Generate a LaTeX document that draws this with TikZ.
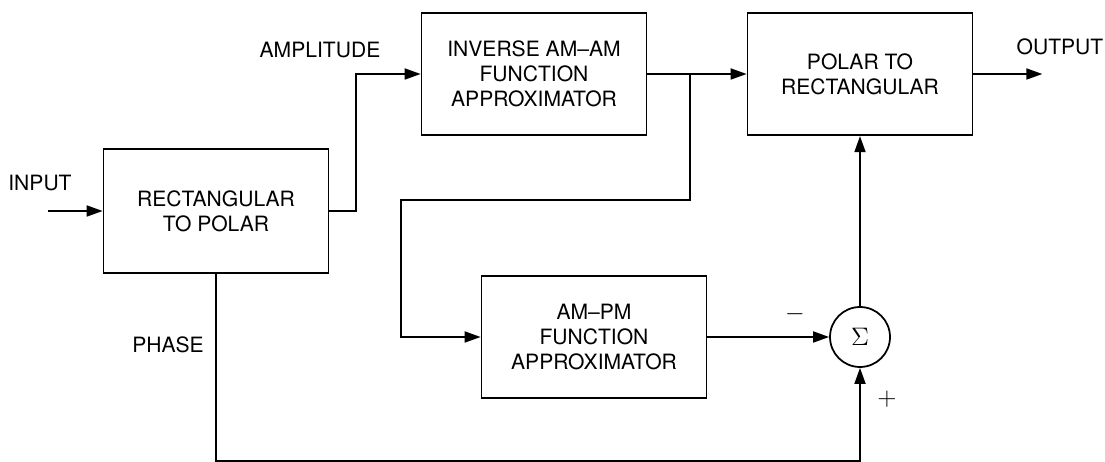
\documentclass[tikz,border=0pt]{standalone}
\usepackage{fontspec}
\setmainfont{TeX Gyre Heros}
\usepackage{tikz}
\usetikzlibrary{arrows.meta, positioning, calc}

\begin{document}
\begin{tikzpicture}[
    x=0.02cm, y=-0.02cm,
    % Styles
    block/.style={draw, rectangle, align=center, minimum width=4.5cm,
                  minimum height=2.45cm, font=\fontsize{12}{14.4}\selectfont, line width=1pt},
    sumnode/.style={draw, circle, minimum size=1.2cm, inner sep=0pt, line width=1pt, font=\Large},
    arrow/.style={-{Triangle[length=0.32cm, width=0.22cm]}, line width=1pt},
    lbl/.style={font=\fontsize{12}{14.4}\selectfont, inner sep=1pt}
  ]
    \useasboundingbox (0,0) rectangle (1105,462);

    % === Blocks ===
    \node[block, minimum height=2.48cm] (r2p) at (216,211) {RECTANGULAR\\TO POLAR};
    \node[block] (inv) at (534,74) {INVERSE AM--AM\\FUNCTION\\APPROXIMATOR};
    \node[block] (p2r) at (860,74) {POLAR TO\\RECTANGULAR};
    \node[block] (ampm) at (594,337) {AM--PM\\FUNCTION\\APPROXIMATOR};
    \node[sumnode] (sum) at (860,337) {$\Sigma$};

    % === Free ends ===
    \coordinate (in) at (48,211);
    \coordinate (split) at (690,74);

    % === Labels ===
    \node[lbl] (inputlbl) at (40,183) {INPUT};
    \node[lbl] (amplbl) at (320,50) {AMPLITUDE};
    \node[lbl] (phaselbl) at (168,345) {PHASE};
    \node[lbl] (outlbl) at (1060,47) {OUTPUT};
    \node[lbl, font=\Large] (minuslbl) at (795,314) {$-$};
    \node[lbl, font=\Large] (pluslbl) at (887,399) {$+$};

    % === Connectors ===
    \draw[arrow] (in) -- (r2p.west);
    \draw[arrow] (r2p.east) -- ++(27,0) |- (inv.west);
    \draw[arrow] (inv.east) -- (p2r.west);
    \draw[arrow] (split) -- ++(0,126) -- ++(-289,0) |- (ampm.west);
    \draw[arrow] (ampm.east) -- (sum.west);
    \draw[arrow] (r2p.south) -- ++(0,187) -| (sum.south);
    \draw[arrow] (sum.north) -- (p2r.south);
    \draw[arrow] (p2r.east) -- ++(69,0);

\end{tikzpicture}
\end{document}
